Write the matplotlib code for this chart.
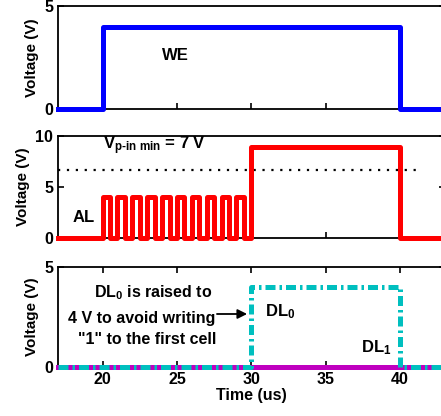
import matplotlib
matplotlib.use("Agg")
import matplotlib.pyplot as plt

plt.rcParams['font.family'] = ['Liberation Sans', 'DejaVu Sans']
plt.rcParams['font.weight'] = 'bold'
plt.rcParams['mathtext.fontset'] = 'custom'
plt.rcParams['mathtext.rm'] = 'Liberation Sans:bold'
plt.rcParams['mathtext.bf'] = 'Liberation Sans:bold'
plt.rcParams['mathtext.it'] = 'Liberation Sans:bold'
plt.rcParams['mathtext.default'] = 'bf'

# WE waveform
we_t = [17, 20, 20, 40, 40, 43]
we_v = [0, 0, 4, 4, 0, 0]

# AL waveform: ten pulses from 20 to 30, then high level until 40
pulse_on = [20, 21, 22, 23, 24, 25, 26, 27, 28, 29]
pulse_off = [20.5, 21.5, 22.5, 23.5, 24.5, 25.5, 26.5, 27.5, 28.5, 29.5]
pulse_high = 4.0
al_high_start = 30
al_high_end = 40
al_high = 8.9
v_pin_min = 6.7

# DL waveforms
dl0_t = [17, 30, 30, 40, 40, 43]
dl0_v = [0, 0, 4, 4, 0, 0]
dl1_t = [17, 43]
dl1_v = [0, 0]

al_t = [17]
al_v = [0]
for on, off in zip(pulse_on, pulse_off):
    al_t += [on, on, off, off]
    al_v += [0, pulse_high, pulse_high, 0]
al_t += [al_high_start, al_high_start, al_high_end, al_high_end, 43]
al_v += [0, al_high, al_high, 0, 0]

fig = plt.figure(figsize=(4.41, 4.16), dpi=100)
left, width = 0.1315, 0.877
ax1 = fig.add_axes([left, 0.738, width, 0.2476])
ax2 = fig.add_axes([left, 0.428, width, 0.245])
ax3 = fig.add_axes([left, 0.118, width, 0.240])

lw = 3.6
ax1.plot(we_t, we_v, color='#0000FF', lw=lw, solid_joinstyle='round', clip_on=False, zorder=3)
ax2.plot(al_t, al_v, color='#FF0000', lw=lw, solid_joinstyle='round', clip_on=False, zorder=3)
ax2.plot([17, 41.3], [v_pin_min, v_pin_min], color='black', lw=1.6, linestyle=(0, (1, 3)))
ax3.plot(dl1_t, dl1_v, color='#BF00BF', lw=lw, clip_on=False, zorder=3)
ax3.plot(dl0_t, dl0_v, color='#00BFBF', lw=lw, linestyle=(0, (2, 0.8, 0.5, 0.8)),
         clip_on=False, zorder=4)

for ax, ymax, yt in [(ax1, 5, [0, 5]), (ax2, 10, [0, 5, 10]), (ax3, 5, [0, 5])]:
    ax.set_xlim(17, 43)
    ax.set_ylim(0, ymax)
    ax.set_yticks(yt)
    ax.set_xticks([20, 25, 30, 35, 40])
    ax.tick_params(direction='in', length=4, width=1.2, labelsize=11.5,
                   top=(ax is ax3), right=True)
    for s in ax.spines.values():
        s.set_linewidth(1.3)
    ax.set_ylabel("Voltage (V)", fontsize=11, fontweight='bold', labelpad=4)
    for lab in ax.get_yticklabels() + ax.get_xticklabels():
        lab.set_fontweight('bold')

ax1.set_xticklabels([])
ax2.set_xticklabels([])
ax3.set_xlabel("Time (us)", fontsize=11.5, fontweight='bold', labelpad=1)

ax1.text(24.0, 2.6, "WE", fontsize=12, fontweight='bold', va='center')
ax2.text(18.0, 2.0, "AL", fontsize=12, fontweight='bold', va='center')
ax2.text(20.0, 9.1, r"V$_{p\text{-}in\ min}$ = 7 V", fontsize=12, fontweight='bold', va='center')

ax3.text(23.4, 3.7, r"DL$_0$ is raised to", fontsize=11.5, ha='center', va='center')
ax3.text(22.6, 2.4, "4 V to avoid writing", fontsize=11.5, ha='center', va='center')
ax3.text(23.0, 1.35, "\"1\" to the first cell", fontsize=11.5, ha='center', va='center')
ax3.annotate("", xy=(29.9, 2.65), xytext=(27.5, 2.65),
             arrowprops=dict(arrowstyle='-|>', color='black', lw=1.3, mutation_scale=14))
ax3.text(30.9, 2.75, r"DL$_0$", fontsize=12, va='center')
ax3.text(37.4, 0.95, r"DL$_1$", fontsize=12, va='center')

plt.savefig("out.png", dpi=100)
